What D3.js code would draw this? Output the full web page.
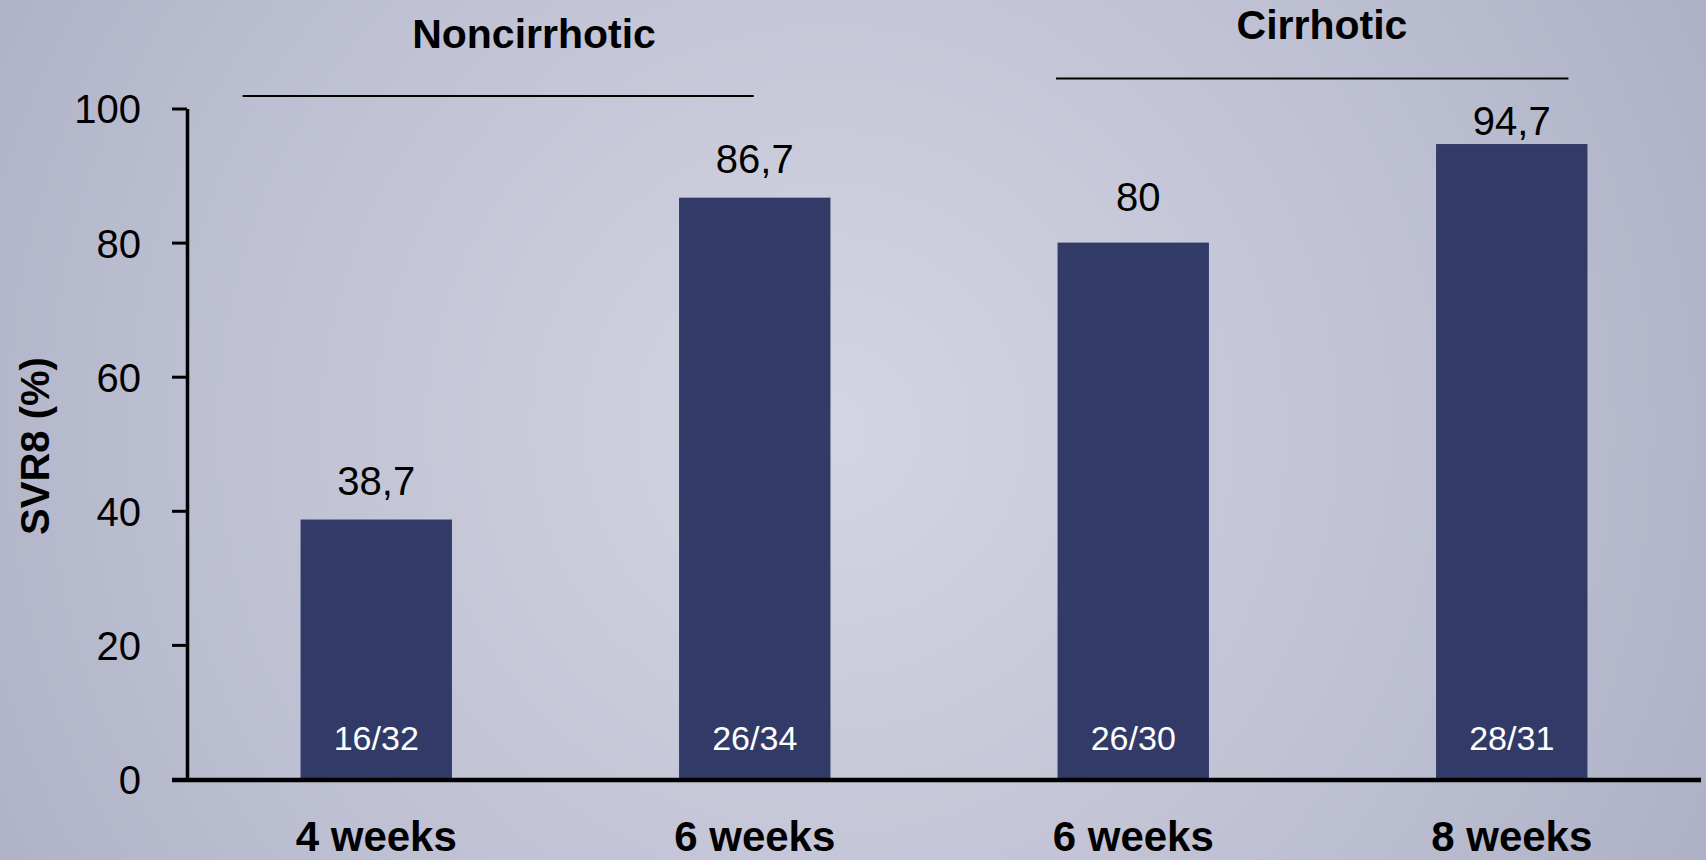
<!DOCTYPE html>
<html>
<head>
<meta charset="utf-8">
<script src="https://cdn.jsdelivr.net/npm/d3@7"></script>
<style>
  html, body { margin: 0; padding: 0; background: #c0c2d4; }
  svg { display: block; }
  text { font-family: "Liberation Sans", Arial, sans-serif; }
</style>
</head>
<body>
<div id="chart"></div>
<script>
// SVR8 rate by treatment duration, split by cirrhosis status
const categories = ["4 weeks", "6 weeks", "6 weeks ", "8 weeks"];
const svr8 = [38.7, 86.7, 80, 94.7];
const valueLabels = ["38,7", "86,7", "80", "94,7"];
const countLabels = ["16/32", "26/34", "26/30", "28/31"];
const yTicks = [0, 20, 40, 60, 80, 100];
const groupNames = ["Noncirrhotic", "Cirrhotic"];

const W = 1706, H = 860;
const svg = d3.select("#chart").append("svg")
  .attr("width", W).attr("height", H);

// soft slide background
const defs = svg.append("defs");
const grad = defs.append("radialGradient")
  .attr("id", "bg").attr("gradientUnits", "userSpaceOnUse")
  .attr("cx", 830).attr("cy", 430).attr("r", 980);
grad.append("stop").attr("offset", "0%").attr("stop-color", "#d3d5e2");
grad.append("stop").attr("offset", "55%").attr("stop-color", "#c1c3d5");
grad.append("stop").attr("offset", "100%").attr("stop-color", "#aeb0c6");
svg.append("rect").attr("width", W).attr("height", H).attr("fill", "url(#bg)");

const x0 = 187, x1 = 1701, yTop = 108.5, yBase = 779;

const x = d3.scaleBand()
  .domain(categories)
  .range([x0, x1])
  .paddingInner(0.6)
  .paddingOuter(0.3);

const y = d3.scaleLinear().domain([0, 100]).range([yBase, yTop]);

// bars
svg.append("g").selectAll("rect")
  .data(svr8)
  .join("rect")
  .attr("x", (d, i) => x(categories[i]))
  .attr("y", d => y(d))
  .attr("width", x.bandwidth())
  .attr("height", d => y(0) - y(d))
  .attr("fill", "#323a67");

// value labels above bars (lift above each bar top)
const labelLift = [24.5, 25, 32, 9];
const labelShift = [0, 0, 5, 0];
svg.append("g").selectAll("text")
  .data(svr8)
  .join("text")
  .attr("x", (d, i) => x(categories[i]) + x.bandwidth() / 2 + labelShift[i])
  .attr("y", (d, i) => y(d) - labelLift[i])
  .attr("text-anchor", "middle")
  .attr("font-size", 40)
  .attr("fill", "#000")
  .text((d, i) => valueLabels[i]);

// patient counts inside bars
svg.append("g").selectAll("text")
  .data(countLabels)
  .join("text")
  .attr("x", (d, i) => x(categories[i]) + x.bandwidth() / 2)
  .attr("y", 750)
  .attr("text-anchor", "middle")
  .attr("font-size", 34)
  .attr("fill", "#ffffff")
  .text(d => d);

// y axis
const yAxis = svg.append("g")
  .attr("transform", `translate(${x0},0)`)
  .call(d3.axisLeft(y).tickValues(yTicks).tickSize(15).tickSizeOuter(0).tickPadding(31));
yAxis.select(".domain").attr("stroke", "#000").attr("stroke-width", 3.5);
yAxis.selectAll(".tick line").attr("stroke", "#000").attr("stroke-width", 3);
yAxis.selectAll(".tick text")
  .attr("font-size", 40)
  .attr("font-family", "Liberation Sans, Arial, sans-serif")
  .attr("fill", "#000")
  .attr("dy", "0.36em");

// x axis baseline
svg.append("line")
  .attr("x1", x0 - 15).attr("x2", x1)
  .attr("y1", yBase + 1).attr("y2", yBase + 1)
  .attr("stroke", "#000").attr("stroke-width", 4.5);

// category labels
const xAxis = svg.append("g")
  .attr("transform", `translate(0,${yBase})`)
  .call(d3.axisBottom(x).tickSize(0).tickPadding(0));
xAxis.select(".domain").remove();
xAxis.selectAll(".tick text")
  .attr("y", 72)
  .attr("dy", 0)
  .attr("font-size", 42)
  .attr("font-weight", "bold")
  .attr("font-family", "Liberation Sans, Arial, sans-serif")
  .attr("fill", "#000")
  .text(d => d.trim());

// y axis title
svg.append("text")
  .attr("transform", "translate(49,446) rotate(-90)")
  .attr("text-anchor", "middle")
  .attr("font-size", 40)
  .attr("font-weight", "bold")
  .attr("fill", "#000")
  .text("SVR8 (%)");

// group headers with rule lines
const bw = x.bandwidth();
const groups = [
  { name: groupNames[0], cx: 534, ty: 48,
    lx1: x(categories[0]) - 58, lx2: x(categories[1]) + bw / 2 - 1, ly: 96 },
  { name: groupNames[1], cx: 1322, ty: 39,
    lx1: x(categories[2]) - 1.5, lx2: x(categories[3]) + bw - 19, ly: 78.5 }
];
const gh = svg.append("g");
gh.selectAll("text")
  .data(groups)
  .join("text")
  .attr("x", d => d.cx)
  .attr("y", d => d.ty)
  .attr("text-anchor", "middle")
  .attr("font-size", 41)
  .attr("font-weight", "bold")
  .attr("fill", "#000")
  .text(d => d.name);
gh.selectAll("line")
  .data(groups)
  .join("line")
  .attr("x1", d => d.lx1).attr("x2", d => d.lx2)
  .attr("y1", d => d.ly).attr("y2", d => d.ly)
  .attr("stroke", "#000").attr("stroke-width", 2);
</script>
</body>
</html>
